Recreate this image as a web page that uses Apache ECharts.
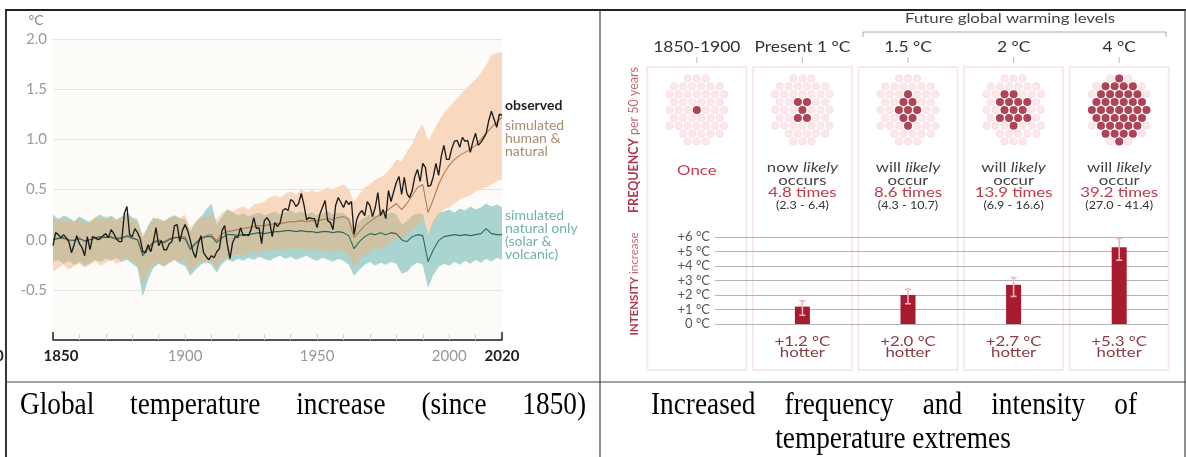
<!DOCTYPE html>
<html>
<head>
<meta charset="utf-8">
<script src="https://cdn.jsdelivr.net/npm/echarts/dist/echarts.min.js"></script>
<style>
  html, body { margin: 0; padding: 0; background: #fff; }
  #chart { width: 1186px; height: 457px; }
</style>
</head>
<body>
<div id="chart"></div>
<script>
// ---- left panel: global temperature change relative to 1850-1900 ----
const obsStart = 1850
const observed = [
  -0.06, 0.07, 0.05, 0.02, 0.05, 0.02, -0.02, -0.13, -0.05, 0.04,
  -0.04, -0.08, -0.16, 0.03, -0.10, 0.03, 0.02, 0.00, 0.01, 0.04,
  0.06, 0.02, 0.10, 0.06, 0.01, -0.02, -0.02, 0.26, 0.33, 0.05,
  0.03, 0.11, 0.07, 0.01, -0.12, -0.13, -0.05, -0.12, -0.02, 0.12,
  -0.06, -0.01, -0.10, -0.10, -0.04, -0.02, 0.14, 0.15, -0.02, 0.09,
  0.15, 0.09, -0.01, -0.12, -0.18, -0.04, 0.04, -0.13, -0.17, -0.20,
  -0.16, -0.18, -0.12, -0.09, 0.09, 0.14, -0.05, -0.19, -0.03, 0.03,
  0.02, 0.12, 0.04, 0.05, 0.04, 0.10, 0.22, 0.11, 0.12, -0.04,
  0.19, 0.22, 0.18, 0.03, 0.17, 0.13, 0.17, 0.29, 0.31, 0.29,
  0.40, 0.38, 0.33, 0.36, 0.46, 0.35, 0.20, 0.22, 0.21, 0.21,
  0.12, 0.25, 0.32, 0.39, 0.19, 0.17, 0.10, 0.34, 0.42, 0.37,
  0.32, 0.39, 0.35, 0.38, 0.05, 0.20, 0.26, 0.29, 0.24, 0.38,
  0.34, 0.23, 0.32, 0.47, 0.24, 0.30, 0.21, 0.49, 0.38, 0.48,
  0.57, 0.63, 0.45, 0.62, 0.46, 0.42, 0.49, 0.63, 0.70, 0.58,
  0.76, 0.72, 0.53, 0.54, 0.63, 0.76, 0.64, 0.83, 0.94, 0.80,
  0.80, 0.91, 0.98, 0.99, 0.92, 1.02, 0.98, 0.99, 0.87, 0.98,
  1.06, 0.94, 0.97, 1.01, 1.06, 1.19, 1.28, 1.20, 1.12, 1.25,
  1.24
]

// model output every 2 years, 1850-2020
const modelStart = 1850
const modelStep = 2
const humanNaturalMean = [
  0.00, 0.02, 0.01, -0.01, 0.00, 0.02, -0.02, 0.00, 0.01, 0.02,
  0.03, 0.02, 0.00, 0.01, 0.03, 0.01, 0.00, -0.14, -0.08, -0.02,
  0.00, -0.02, 0.01, 0.02, 0.03, 0.03, -0.08, -0.03, 0.02, 0.04,
  0.05, -0.01, 0.06, 0.08, 0.09, 0.10, 0.11, 0.12, 0.13, 0.14,
  0.14, 0.15, 0.16, 0.16, 0.17, 0.18, 0.18, 0.19, 0.18, 0.19,
  0.19, 0.20, 0.21, 0.20, 0.22, 0.23, 0.20, 0.02, 0.08, 0.14,
  0.18, 0.22, 0.25, 0.28, 0.32, 0.36, 0.30, 0.36, 0.44, 0.52,
  0.55, 0.27, 0.40, 0.55, 0.66, 0.74, 0.80, 0.84, 0.87, 0.90,
  0.94, 1.00, 1.06, 1.12, 1.17, 1.22
]
const humanNaturalLow = [
  -0.32, -0.28, -0.25, -0.30, -0.26, -0.24, -0.28, -0.25, -0.22, -0.26,
  -0.23, -0.20, -0.24, -0.22, -0.18, -0.22, -0.25, -0.45, -0.32, -0.24,
  -0.22, -0.26, -0.23, -0.20, -0.22, -0.20, -0.32, -0.26, -0.22, -0.24,
  -0.22, -0.28, -0.20, -0.18, -0.16, -0.14, -0.16, -0.13, -0.12, -0.14,
  -0.10, -0.12, -0.09, -0.11, -0.08, -0.10, -0.07, -0.09, -0.11, -0.08,
  -0.10, -0.12, -0.09, -0.13, -0.10, -0.12, -0.16, -0.28, -0.20, -0.15,
  -0.12, -0.08, -0.10, -0.06, -0.02, 0.02, 0.00, 0.05, 0.10, 0.15,
  0.20, 0.05, 0.15, 0.25, 0.30, 0.32, 0.36, 0.40, 0.42, 0.44,
  0.48, 0.50, 0.52, 0.55, 0.58, 0.60
]
const humanNaturalHigh = [
  0.20, 0.22, 0.18, 0.20, 0.17, 0.21, 0.16, 0.19, 0.22, 0.20,
  0.24, 0.21, 0.19, 0.22, 0.25, 0.20, 0.18, 0.05, 0.12, 0.20,
  0.22, 0.19, 0.21, 0.24, 0.22, 0.25, 0.12, 0.18, 0.24, 0.22,
  0.26, 0.20, 0.27, 0.30, 0.28, 0.31, 0.33, 0.30, 0.35, 0.36,
  0.38, 0.42, 0.44, 0.42, 0.46, 0.48, 0.45, 0.50, 0.47, 0.49,
  0.47, 0.49, 0.52, 0.50, 0.53, 0.55, 0.50, 0.38, 0.45, 0.52,
  0.55, 0.60, 0.62, 0.66, 0.72, 0.80, 0.78, 0.88, 0.95, 1.08,
  1.15, 0.98, 1.08, 1.18, 1.26, 1.32, 1.38, 1.44, 1.50, 1.55,
  1.60, 1.66, 1.74, 1.84, 1.86, 1.87
]
const naturalMean = [
  0.00, 0.01, 0.02, 0.00, -0.01, 0.01, -0.01, 0.00, 0.02, 0.03,
  0.02, 0.03, 0.01, 0.02, 0.04, 0.02, 0.00, -0.16, -0.09, -0.03,
  -0.01, -0.03, 0.00, 0.02, 0.02, 0.01, -0.10, -0.04, 0.01, 0.03,
  0.03, -0.03, 0.02, 0.05, 0.05, 0.04, 0.05, 0.05, 0.06, 0.07,
  0.06, 0.07, 0.08, 0.08, 0.09, 0.09, 0.08, 0.09, 0.08, 0.08,
  0.07, 0.08, 0.08, 0.07, 0.08, 0.07, 0.04, -0.09, -0.02, 0.03,
  0.06, 0.05, 0.07, 0.05, 0.07, 0.06, 0.00, -0.02, 0.03, 0.05,
  0.04, -0.22, -0.10, -0.01, 0.03, 0.04, 0.05, 0.04, 0.05, 0.04,
  0.05, 0.06, 0.11, 0.06, 0.05, 0.05
]
const naturalLow = [
  -0.22, -0.20, -0.24, -0.21, -0.25, -0.22, -0.26, -0.23, -0.20, -0.22,
  -0.19, -0.21, -0.18, -0.22, -0.20, -0.24, -0.28, -0.57, -0.40, -0.28,
  -0.24, -0.27, -0.23, -0.20, -0.24, -0.26, -0.36, -0.30, -0.25, -0.22,
  -0.25, -0.33, -0.24, -0.20, -0.22, -0.19, -0.21, -0.18, -0.20, -0.17,
  -0.19, -0.21, -0.18, -0.16, -0.19, -0.17, -0.20, -0.18, -0.16, -0.19,
  -0.21, -0.18, -0.20, -0.22, -0.19, -0.21, -0.25, -0.36, -0.30, -0.25,
  -0.22, -0.26, -0.23, -0.25, -0.22, -0.24, -0.34, -0.32, -0.26, -0.23,
  -0.25, -0.48, -0.35, -0.27, -0.24, -0.26, -0.22, -0.25, -0.21, -0.24,
  -0.20, -0.23, -0.19, -0.22, -0.18, -0.20
]
const naturalHigh = [
  0.25, 0.20, 0.24, 0.22, 0.18, 0.23, 0.20, 0.17, 0.22, 0.25,
  0.21, 0.24, 0.20, 0.23, 0.27, 0.22, 0.20, 0.02, 0.14, 0.22,
  0.20, 0.18, 0.22, 0.24, 0.21, 0.20, 0.08, 0.17, 0.22, 0.30,
  0.36, 0.15, 0.22, 0.30, 0.27, 0.24, 0.26, 0.23, 0.25, 0.27,
  0.24, 0.26, 0.28, 0.25, 0.27, 0.29, 0.26, 0.28, 0.25, 0.27,
  0.24, 0.26, 0.28, 0.25, 0.27, 0.26, 0.22, 0.10, 0.18, 0.22,
  0.25, 0.23, 0.26, 0.24, 0.27, 0.25, 0.15, 0.18, 0.24, 0.26,
  0.25, 0.05, 0.18, 0.26, 0.28, 0.30, 0.27, 0.31, 0.29, 0.33,
  0.30, 0.32, 0.36, 0.33, 0.35, 0.32
]
const yearLabels = [1850, 1900, 1950, 2000, 2020]

// ---- right panel: 50-year hot extremes ----
const periods = ['1850-1900', 'Present 1 °C', '1.5 °C', '2 °C', '4 °C']
const frequency = [1, 4.8, 8.6, 13.9, 39.2]
const frequencyRange = ['', '2.3 - 6.4', '4.3 - 10.7', '6.9 - 16.6', '27.0 - 41.4']
const frequencyWords = [null, ['now', 'occurs'], ['will', 'occur'], ['will', 'occur'], ['will', 'occur']]
const intensity = [null, 1.2, 2.0, 2.7, 5.3]
const intensityLow = [null, 0.6, 1.4, 1.9, 4.4]
const intensityHigh = [null, 1.6, 2.4, 3.2, 5.9]
const eventsPer = 50

const FONT = 'Lato'
const SX = 1.2 // right-hand graphic is a little stretched sideways

const modelYear = i => modelStart + i * modelStep
const pairs = arr => arr.map((v, i) => [modelYear(i), v])

// right panel layout
const colLeft = 644
const colWidth = 105.6
const colCenter = i => colLeft + (i + 0.5) * colWidth

function bandSeries (name, lo, hi, color) {
  return {
    type: 'custom',
    name,
    xAxisIndex: 0,
    yAxisIndex: 0,
    silent: true,
    z: 1,
    data: [[modelStart, 0]],
    renderItem: (params, api) => {
      const top = hi.map((v, i) => api.coord([modelYear(i), v]))
      const bottom = lo.map((v, i) => api.coord([modelYear(i), v])).reverse()
      return {
        type: 'polygon',
        shape: { points: top.concat(bottom) },
        style: { fill: color }
      }
    }
  }
}

// overlap of the two model ranges
const overlapLow = humanNaturalLow.map((v, i) => Math.max(v, naturalLow[i]))
const overlapHigh = humanNaturalHigh.map((v, i) => Math.max(overlapLow[i], Math.min(v, naturalHigh[i])))

// dots packed in a hexagonal disc, nearest to the centre first
function clusterLayout (count, spacing) {
  const pts = []
  for (let r = -7; r <= 7; r++) {
    for (let q = -8; q <= 8; q++) {
      const x = (q + (r & 1) * 0.5) * spacing
      const y = r * spacing * 0.866
      pts.push([x, y, Math.hypot(x, y), Math.atan2(y, x)])
    }
  }
  pts.sort((a, b) => (a[2] - b[2]) || (a[3] - b[3]))
  return pts.slice(0, count)
}
const dotGridHeight = 76
const layout = clusterLayout(eventsPer, 9.1)
const lightDots = []
const darkDots = []
periods.forEach((p, i) => {
  const n = Math.round(frequency[i])
  layout.forEach((pt, k) => {
    const d = [i + 0.5 + pt[0] / colWidth, -pt[1] / (dotGridHeight / 2)]
    lightDots.push(d)
    if (k < n) darkDots.push(d)
  })
})

function justified (words, x0, x1, yc, size, scale) {
  const ctx = document.createElement('canvas').getContext('2d')
  const font = size + 'px "Liberation Serif"'
  ctx.font = font
  const widths = words.map(w => ctx.measureText(w).width * scale)
  const total = widths.reduce((a, b) => a + b, 0)
  const gap = (x1 - x0 - total) / (words.length - 1)
  let x = x0
  return words.map((w, i) => {
    const el = {
      type: 'text', x, y: yc, scaleX: scale,
      style: { text: w, font, fill: '#000', verticalAlign: 'middle' }
    }
    x += widths[i] + gap
    return el
  })
}

function rtext (x, y, text, opts = {}) {
  return {
    type: 'text', x, y, scaleX: opts.scaleX || SX, rotation: opts.rotation || 0,
    z: 10,
    style: Object.assign({
      text, fontFamily: FONT, fontSize: 14, fill: '#333',
      align: 'center', verticalAlign: 'middle'
    }, opts.style || {})
  }
}

const graphics = []

// table frame
const frame = '#222'
graphics.push(
  { type: 'line', shape: { x1: 5, y1: 10, x2: 1186, y2: 10 }, style: { stroke: frame, lineWidth: 1.8 } },
  { type: 'line', shape: { x1: 6, y1: 10, x2: 6, y2: 457 }, style: { stroke: frame, lineWidth: 1.8 } },
  { type: 'line', shape: { x1: 600, y1: 10, x2: 600, y2: 457 }, style: { stroke: '#444', lineWidth: 1.2 } },
  { type: 'line', shape: { x1: 1185, y1: 10, x2: 1185, y2: 457 }, style: { stroke: '#444', lineWidth: 1.2 } },
  { type: 'line', shape: { x1: 6, y1: 382, x2: 1186, y2: 382 }, style: { stroke: '#444', lineWidth: 1.2 } }
)

// captions
const capSize = 31
const capScale = 0.88
graphics.push(...justified(['Global', 'temperature', 'increase', '(since', '1850)'], 20, 586, 406, capSize, capScale))
graphics.push(...justified(['Increased', 'frequency', 'and', 'intensity', 'of'], 651, 1137, 406, capSize, capScale))
graphics.push({
  type: 'text', x: 893, y: 440, scaleX: capScale,
  style: { text: 'temperature extremes', font: capSize + 'px "Liberation Serif"', fill: '#000', align: 'center', verticalAlign: 'middle' }
})

// left panel labels
graphics.push(
  { type: 'text', x: 36, y: 20, style: { text: '°C', fontFamily: FONT, fontSize: 14, fill: '#888', align: 'center', verticalAlign: 'middle' } },
  { type: 'text', x: -5, y: 356, style: { text: '0', fontFamily: FONT, fontSize: 15, fontWeight: 'bold', fill: '#222', verticalAlign: 'middle' } },
  { type: 'text', x: 505, y: 105, style: { text: 'observed', fontFamily: FONT, fontSize: 14, fontWeight: 'bold', fill: '#222', verticalAlign: 'middle' } },
  { type: 'text', x: 505, y: 119.5, style: { text: 'simulated\nhuman &\nnatural', fontFamily: FONT, fontSize: 14, lineHeight: 12.6, fill: '#a88c6c', verticalAlign: 'top' } },
  { type: 'text', x: 505, y: 209, style: { text: 'simulated\nnatural only\n(solar &\nvolcanic)', fontFamily: FONT, fontSize: 14, lineHeight: 13, fill: '#72b1aa', verticalAlign: 'top' } }
)

// right panel: column boxes
periods.forEach((p, i) => {
  graphics.push({
    type: 'rect', z: -1,
    shape: { x: colCenter(i) - 49.5, y: 67, width: 99, height: 303 },
    style: { fill: '#fff', stroke: '#f7e9eb', lineWidth: 2 }
  })
})

// right panel: headings and ticks below them
graphics.push(rtext(1010, 18, 'Future global warming levels', { style: { fontSize: 14, fill: '#444' } }))
graphics.push({
  type: 'polyline', z: 10,
  shape: { points: [[863, 37], [863, 32], [1166, 32], [1166, 37]] },
  style: { stroke: '#aaa', lineWidth: 1, fill: null }
})
periods.forEach((p, i) => {
  graphics.push(rtext(colCenter(i), 47, p, { style: { fontSize: 14.5, fill: '#333' } }))
  graphics.push({
    type: 'line', z: 10,
    shape: { x1: colCenter(i), y1: 57, x2: colCenter(i), y2: 63 },
    style: { stroke: '#bbb', lineWidth: 1 }
  })
})

// right panel: vertical section titles
graphics.push(rtext(634, 140, '{b|FREQUENCY}{l| per 50 years}', {
  scaleX: 1, rotation: Math.PI / 2,
  style: {
    rich: {
      b: { fontFamily: FONT, fontSize: 12.5, fontWeight: 'bold', fill: '#b0364a' },
      l: { fontFamily: FONT, fontSize: 12.5, fill: '#c46a74' }
    }
  }
}))
graphics.push(rtext(634, 284, '{b|INTENSITY}{l| increase}', {
  scaleX: 1, rotation: Math.PI / 2,
  style: {
    rich: {
      b: { fontFamily: FONT, fontSize: 11.5, fontWeight: 'bold', fill: '#b0364a' },
      l: { fontFamily: FONT, fontSize: 11.5, fill: '#c46a74' }
    }
  }
}))

// right panel: frequency statements
const freqRich = {
  n: { fontFamily: FONT, fontSize: 14, fill: '#444', lineHeight: 12.5 },
  i: { fontFamily: FONT, fontSize: 14, fontStyle: 'italic', fill: '#444', lineHeight: 12.5 },
  r: { fontFamily: FONT, fontSize: 14, fill: '#c2394c', lineHeight: 12.5 },
  s: { fontFamily: FONT, fontSize: 10.5, fill: '#333', lineHeight: 14 }
}
periods.forEach((p, i) => {
  let text
  if (!frequencyWords[i]) {
    text = '{r|Once}'
  } else {
    const w = frequencyWords[i]
    text = `{n|${w[0]} }{i|likely}\n{n|${w[1]}}\n{r|${frequency[i].toFixed(1)} times}\n{s|(${frequencyRange[i]})}`
  }
  graphics.push(rtext(colCenter(i), frequencyWords[i] ? 161.5 : 170, text, {
    style: { rich: freqRich, verticalAlign: frequencyWords[i] ? 'top' : 'middle' }
  }))
})

// right panel: intensity statements below the bars
periods.forEach((p, i) => {
  if (intensity[i] == null) return
  graphics.push(rtext(colCenter(i), 336, `+${intensity[i].toFixed(1)} °C\nhotter`, {
    style: { fontSize: 14, lineHeight: 11, fill: '#8c3a45', verticalAlign: 'top' }
  }))
})

const chart = echarts.init(document.getElementById('chart'))

const option = {
  animation: false,
  grid: [
    { left: 53, right: 684, top: 39, bottom: 117, show: true, backgroundColor: '#fcfbf7', borderWidth: 0 },
    { left: 715, right: 18, top: 237, bottom: 133 },
    { left: colLeft, right: 1186 - colLeft - 5 * colWidth, top: 237, bottom: 133 },
    { left: colLeft, right: 1186 - colLeft - 5 * colWidth, top: 72, height: dotGridHeight }
  ],
  xAxis: [
    {
      type: 'value', gridIndex: 0, min: 1850, max: 2020, interval: 10,
      axisLine: { onZero: false, lineStyle: { color: '#222', width: 1.5 } },
      axisTick: { inside: true, length: 6, lineStyle: { color: '#d0d0d0' } },
      splitLine: { show: false },
      axisLabel: {
        margin: 9,
        formatter: v => {
          if (!yearLabels.includes(v)) return ''
          if (v === 1850) return '{first|' + v + '}'
          if (v === 2020) return '{last|' + v + '}'
          return String(v)
        },
        fontFamily: FONT, fontSize: 15, color: '#999',
        rich: {
          first: { fontFamily: FONT, fontSize: 15, fontWeight: 'bold', color: '#222', padding: [0, 0, 0, 16] },
          last: { fontFamily: FONT, fontSize: 15, fontWeight: 'bold', color: '#222' }
        }
      }
    },
    { type: 'value', gridIndex: 1, show: false, min: 0, max: 1 },
    {
      type: 'category', gridIndex: 2, data: periods,
      axisLine: { show: false }, axisTick: { show: false }, axisLabel: { show: false }
    },
    { type: 'value', gridIndex: 3, show: false, min: 0, max: 5 }
  ],
  yAxis: [
    {
      type: 'value', gridIndex: 0, min: -1, max: 2, interval: 0.5,
      axisLine: { show: false }, axisTick: { show: false },
      splitLine: { lineStyle: { color: '#e4e4e4' } },
      axisLabel: {
        margin: 6, fontFamily: FONT, fontSize: 15, color: '#9a9a9a',
        formatter: v => (v <= -1 ? '' : v.toFixed(1))
      }
    },
    {
      type: 'value', gridIndex: 1, min: 0, max: 6, interval: 1,
      axisLine: { show: false }, axisTick: { show: false },
      splitLine: { lineStyle: { color: '#b4b4b4' } },
      axisLabel: {
        margin: 5, fontFamily: FONT, fontSize: 13, color: '#555',
        formatter: v => (v > 0 ? '+' : '') + v + ' °C'
      }
    },
    { type: 'value', gridIndex: 2, show: false, min: 0, max: 6 },
    { type: 'value', gridIndex: 3, show: false, min: -1, max: 1 }
  ],
  graphic: graphics,
  series: [
    bandSeries('simulated human & natural', humanNaturalLow, humanNaturalHigh, '#f8d9bf'),
    bandSeries('simulated natural only', naturalLow, naturalHigh, '#a9d4d0'),
    bandSeries('overlap', overlapLow, overlapHigh, '#cfc2a3'),
    {
      type: 'line', name: 'human & natural mean', xAxisIndex: 0, yAxisIndex: 0,
      data: pairs(humanNaturalMean), showSymbol: false, z: 3,
      lineStyle: { color: '#b07d55', width: 1.1 }
    },
    {
      type: 'line', name: 'natural only mean', xAxisIndex: 0, yAxisIndex: 0,
      data: pairs(naturalMean), showSymbol: false, z: 3,
      lineStyle: { color: '#2f6b5c', width: 1.1 }
    },
    {
      type: 'line', name: 'observed', xAxisIndex: 0, yAxisIndex: 0,
      data: observed.map((v, i) => [obsStart + i, v]), showSymbol: false, z: 4,
      lineStyle: { color: '#1c1c1c', width: 1.35 }
    },
    {
      // heavier ticks at the two ends of the time axis
      type: 'custom', xAxisIndex: 0, yAxisIndex: 0, silent: true, z: 5,
      data: [[yearLabels[0], -1], [yearLabels[yearLabels.length - 1], -1]],
      renderItem: (params, api) => {
        const pt = api.coord([api.value(0), api.value(1)])
        return {
          type: 'line',
          shape: { x1: pt[0], y1: pt[1], x2: pt[0], y2: pt[1] - 8 },
          style: { stroke: '#222', lineWidth: 1.5 }
        }
      }
    },
    {
      type: 'bar', name: 'intensity', xAxisIndex: 2, yAxisIndex: 2,
      data: intensity, barWidth: 15, z: 3,
      itemStyle: { color: '#a81b2f' }
    },
    {
      type: 'custom', name: 'likely range', xAxisIndex: 2, yAxisIndex: 2, silent: true, z: 4,
      data: intensity.map((v, i) => (v == null ? null : [i, intensityLow[i], intensityHigh[i]])).filter(Boolean),
      renderItem: (params, api) => {
        const lo = api.coord([api.value(0), api.value(1)])
        const hi = api.coord([api.value(0), api.value(2)])
        const style = { stroke: '#f4b3bd', lineWidth: 1.6 }
        return {
          type: 'group',
          children: [
            { type: 'line', shape: { x1: lo[0], y1: lo[1], x2: hi[0], y2: hi[1] }, style },
            { type: 'line', shape: { x1: hi[0] - 3, y1: hi[1], x2: hi[0] + 3, y2: hi[1] }, style },
            { type: 'line', shape: { x1: lo[0] - 3, y1: lo[1], x2: lo[0] + 3, y2: lo[1] }, style }
          ]
        }
      }
    },
    {
      type: 'scatter', name: 'years', xAxisIndex: 3, yAxisIndex: 3,
      data: lightDots, symbolSize: 7.3, z: 3, silent: true,
      itemStyle: { color: '#fbe2e6', borderColor: '#f4cbd2', borderWidth: 0.6 }
    },
    {
      type: 'scatter', name: 'events', xAxisIndex: 3, yAxisIndex: 3,
      data: darkDots, symbolSize: 8, z: 4, silent: true,
      itemStyle: { color: '#9c1a31' }
    }
  ]
}

chart.setOption(option)
</script>
</body>
</html>
